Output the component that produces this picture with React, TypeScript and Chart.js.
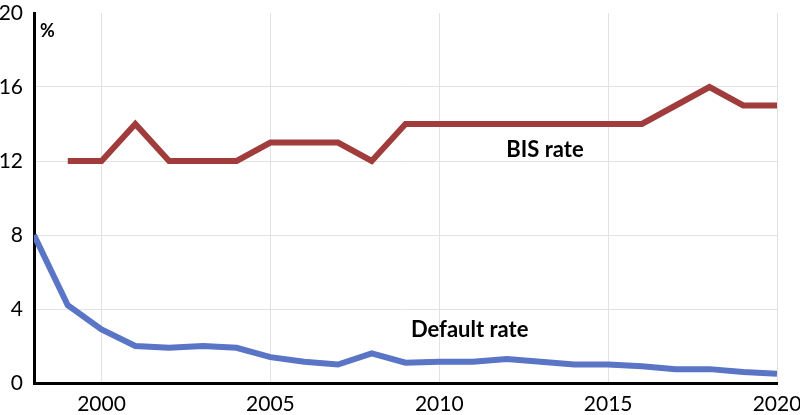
import React, { useEffect, useRef } from "react";
import { Chart, registerables } from "chart.js";

Chart.register(...registerables);

const years = [1998, 1999, 2000, 2001, 2002, 2003, 2004, 2005, 2006, 2007, 2008, 2009, 2010, 2011, 2012, 2013, 2014, 2015, 2016, 2017, 2018, 2019, 2020];
const bisYears = [1999, 2000, 2001, 2002, 2003, 2004, 2005, 2006, 2007, 2008, 2009, 2010, 2011, 2012, 2013, 2014, 2015, 2016, 2017, 2018, 2019, 2020];
const bisRate = [12, 12, 14, 12, 12, 12, 13, 13, 13, 12, 14, 14, 14, 14, 14, 14, 14, 14, 15, 16, 15, 15];
const defaultRate = [8, 4.2, 2.9, 2.0, 1.9, 2.0, 1.9, 1.4, 1.15, 1.0, 1.6, 1.1, 1.15, 1.15, 1.3, 1.15, 1.0, 1.0, 0.9, 0.75, 0.75, 0.6, 0.5];
const yTicks = [0, 4, 8, 12, 16, 20];
const xTicks = [2000, 2005, 2010, 2015, 2020];

const FONT = "Lato, 'Open Sans', sans-serif";

const labelsPlugin = {
  id: "seriesLabels",
  afterDraw(chart: any) {
    const { ctx, scales } = chart;
    const x = scales.x;
    const y = scales.y;
    ctx.save();
    ctx.fillStyle = "#000";
    ctx.textBaseline = "middle";
    ctx.font = `bold 18px ${FONT}`;
    ctx.textAlign = "left";
    ctx.fillText("%", x.getPixelForValue(1998) + 6, y.getPixelForValue(19));
    ctx.font = `bold 22px ${FONT}`;
    ctx.textAlign = "center";
    ctx.fillText("BIS rate", x.getPixelForValue(2013.13), y.getPixelForValue(12.6));
    ctx.fillText("Default rate", x.getPixelForValue(2010.9), y.getPixelForValue(2.86));
    ctx.restore();
  },
};

export default function App() {
  const ref = useRef<HTMLCanvasElement>(null);
  useEffect(() => {
    if (!ref.current) return;
    const chart = new Chart(ref.current, {
      type: "line",
      data: {
        datasets: [
          {
            label: "BIS rate",
            data: bisYears.map((yr, i) => ({ x: yr, y: bisRate[i] })),
            borderColor: "#a03c3c",
            borderWidth: 6,
            pointRadius: 0,
            tension: 0,
          },
          {
            label: "Default rate",
            data: years.map((yr, i) => ({ x: yr, y: defaultRate[i] })),
            borderColor: "#5a74c6",
            borderWidth: 6,
            pointRadius: 0,
            tension: 0,
          },
        ],
      },
      options: {
        animation: false,
        responsive: false,
        devicePixelRatio: 1,
        layout: { padding: { top: 13, right: 23, left: 0, bottom: 0 } },
        plugins: { legend: { display: false }, tooltip: { enabled: false } },
        scales: {
          x: {
            type: "linear",
            min: 1998,
            max: 2020,
            afterFit: (s: any) => {
              s.height = 32;
              s.paddingLeft = 0;
              s.paddingRight = 0;
            },
            afterBuildTicks: (s: any) => { s.ticks = xTicks.map((v) => ({ value: v })); },
            ticks: {
              includeBounds: false,
              color: "#000",
              font: { family: FONT, size: 21 },
              padding: 9,
              callback: (v: any) => String(v),
              maxRotation: 0,
            },
            grid: { color: "#e2e2e2", lineWidth: 1, drawTicks: false },
            border: { color: "#000", width: 3 },
          },
          y: {
            type: "linear",
            min: 0,
            max: 20,
            afterFit: (s: any) => {
              s.width = 34;
              s.paddingTop = 0;
              s.paddingBottom = 0;
            },
            afterBuildTicks: (s: any) => { s.ticks = yTicks.map((v) => ({ value: v })); },
            ticks: {
              color: "#000",
              font: { family: FONT, size: 21 },
              padding: 11,
            },
            grid: {
              color: (c: any) => (c.tick && c.tick.value === 20 ? "rgba(0,0,0,0)" : "#e2e2e2"),
              lineWidth: 1,
              drawTicks: false,
            },
            border: { color: "#000", width: 3 },
          },
        },
      },
      plugins: [labelsPlugin],
    });
    return () => chart.destroy();
  }, []);
  return (
    <div style={{ position: "fixed", left: 0, top: 0, width: 800, height: 415, background: "#fff" }}>
      <canvas ref={ref} width={800} height={415} style={{ display: "block" }} />
    </div>
  );
}
